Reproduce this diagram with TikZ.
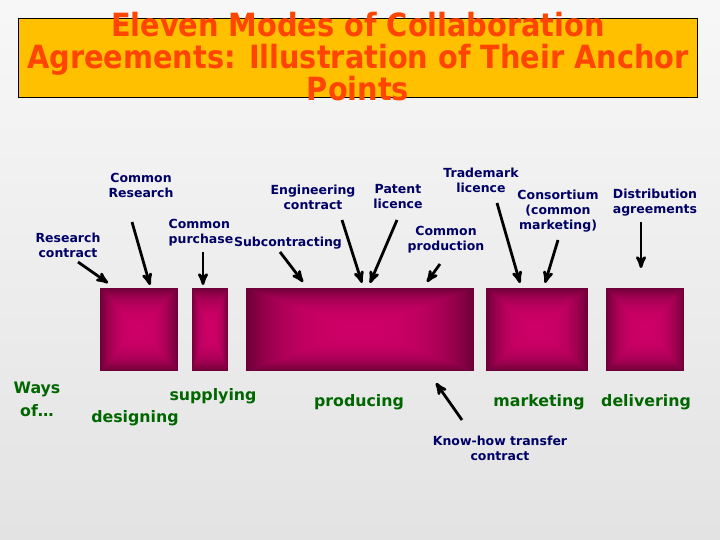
\documentclass[tikz,border=0pt]{standalone}
\usepackage{fontspec}
\setmainfont{DejaVu Sans}
\newfontfamily\titlefont{DejaVu Sans Condensed}
\usepackage{tikz}
\usetikzlibrary{arrows,calc}

\definecolor{titlegold}{HTML}{FFC000}
\definecolor{titlered}{HTML}{FF4500}
\definecolor{labelnavy}{HTML}{000066}
\definecolor{waygreen}{HTML}{006600}
\definecolor{boxdark}{HTML}{6E0039}
\definecolor{boxpink}{HTML}{CC0066}

\begin{document}
\begin{tikzpicture}[x=1pt,y=-1pt,>=stealth']
          \tikzstyle{mode}=[font=\fontsize{12.5}{15}\selectfont\bfseries,text=labelnavy,
                            align=center,inner sep=0pt]
          \tikzstyle{way}=[font=\fontsize{15.8}{23}\selectfont\bfseries,text=waygreen,
                           align=center,inner sep=0pt]
          \tikzstyle{pointer}=[->,line width=2.8pt]
          \tikzstyle{stage}=[minimum height=83pt,inner sep=0pt,
            path picture={
              \foreach \i in {0,...,39}{
                \pgfmathsetmacro\s{1-\i/40}
                \pgfmathsetmacro\m{100*(1-\s*\s*\s)}
                \fill[boxpink!\m!boxdark]
                  ($(path picture bounding box.center)!\s!(path picture bounding box.north west)$)
                  rectangle
                  ($(path picture bounding box.center)!\s!(path picture bounding box.south east)$);
              }}]

          \useasboundingbox (0,0) rectangle (720,540);
          \shade[top color=white!97!black,bottom color=white!89!black] (0,0) rectangle (720,540);

          % title
          \draw[fill=titlegold,line width=0.8pt] (18,18) rectangle (697,97);
          \node[font=\titlefont\fontsize{32}{32}\selectfont\bfseries,text=titlered,align=center,inner sep=0pt]
               (T) at (358,57) {Eleven Modes of Collaboration\\Agreements: Illustration of Their Anchor\\Points};

          % the five stages
          \node[stage,minimum width=78pt]  (B1) at (139,329.5) {};
          \node[stage,minimum width=36pt]  (B2) at (210,329.5) {};
          \node[stage,minimum width=228pt] (B3) at (360,329.5) {};
          \node[stage,minimum width=102pt] (B4) at (537,329.5) {};
          \node[stage,minimum width=78pt]  (B5) at (645,329.5) {};

          % agreements
          \node[mode] (RC) at (68,245)  {Research\\contract};
          \node[mode] (CR) at (141,185) {Common\\Research};
          \node[mode,align=left] (CP) at (201,233) {Common\\purchase};
          \node[mode] (SC) at (288,243) {Subcontracting};
          \node[mode] (EC) at (313,197) {Engineering\\contract};
          \node[mode] (PL) at (398,197) {Patent\\licence};
          \node[mode] (CO) at (446,240) {Common\\production};
          \node[mode] (TL) at (481,180) {Trademark\\licence};
          \node[mode] (CM) at (558,211) {Consortium\\(common\\marketing)};
          \node[mode] (DA) at (655,203) {Distribution\\agreements};
          \node[mode] (KH) at (500,448) {Know-how transfer\\contract};

          % ways of ...
          \node[way] (W)  at (37,399)  {Ways\\of\dots};
          \node[way] (W1) at (135,418) {designing};
          \node[way] (W2) at (213,396) {supplying};
          \node[way] (W3) at (359,402) {producing};
          \node[way] (W4) at (539,402) {marketing};
          \node[way] (W5) at (646,402) {delivering};

          % arrows
          \coordinate (RCa) at (78,262);  \coordinate (RCb) at (108,283);
          \coordinate (CRa) at (132,222); \coordinate (CRb) at (150,285);
          \coordinate (CPa) at (203,252); \coordinate (CPb) at (203,285);
          \coordinate (SCa) at (280,252); \coordinate (SCb) at (303,282);
          \coordinate (ECa) at (342,220); \coordinate (ECb) at (362,283);
          \coordinate (PLa) at (397,220); \coordinate (PLb) at (370,283);
          \coordinate (COa) at (440,264); \coordinate (COb) at (427,282);
          \coordinate (TLa) at (497,203); \coordinate (TLb) at (520,283);
          \coordinate (CMa) at (558,240); \coordinate (CMb) at (545,283);
          \coordinate (DAa) at (641,222); \coordinate (DAb) at (641,268);
          \coordinate (KHa) at (462,420); \coordinate (KHb) at (436,383);

          \draw[pointer] (RCa) -- (RCb);
          \draw[pointer] (CRa) -- (CRb);
          \draw[pointer] (CPa) -- (CPb);
          \draw[pointer] (SCa) -- (SCb);
          \draw[pointer] (ECa) -- (ECb);
          \draw[pointer] (PLa) -- (PLb);
          \draw[pointer] (COa) -- (COb);
          \draw[pointer] (TLa) -- (TLb);
          \draw[pointer] (CMa) -- (CMb);
          \draw[pointer] (DAa) -- (DAb);
          \draw[pointer] (KHa) -- (KHb);

        \end{tikzpicture}
\end{document}
